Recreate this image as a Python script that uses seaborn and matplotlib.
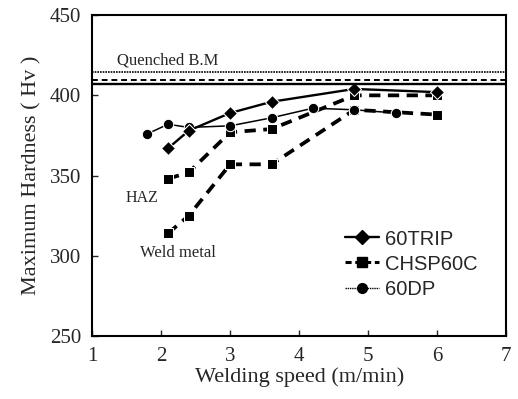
import numpy as np
import pandas as pd
import matplotlib
matplotlib.use('Agg')
import matplotlib.pyplot as plt
import seaborn as sns
from matplotlib.lines import Line2D

# welding speed (m/min) and maximum hardness (Hv)
trip_x = [2.1, 2.4, 3.0, 3.6, 4.8, 6.0]
trip_y = [367, 378, 389, 396, 404, 402]

chsp_haz_x = [2.1, 2.4, 3.0, 3.6, 4.8, 6.0]
chsp_haz_y = [348, 352, 377, 379, 400, 400]

chsp_weld_x = [2.1, 2.4, 3.0, 3.6, 4.8, 6.0]
chsp_weld_y = [314, 325, 357, 357, 391, 388]

dp_x = [1.8, 2.1, 2.4, 3.0, 3.6, 4.2, 4.8, 5.4]
dp_y = [376, 382, 380, 381, 386, 392, 391, 389]

# quenched base metal hardness
quenched_trip = 407
quenched_chsp = 409.5
quenched_dp = 414.5

sns.set_style('ticks')
plt.rcParams['font.family'] = ['Liberation Serif', 'DejaVu Serif']

fig = plt.figure(figsize=(5.18, 3.99), dpi=100)
ax = fig.add_axes([0.178, 0.158, 0.799, 0.804])

trip_style = dict(color='black', linestyle='-', linewidth=1.7, marker='D', markersize=7.5)
chsp_style = dict(color='black', linestyle=(0, (3, 2)), linewidth=2.7, marker='s', markersize=7.5)
dp_style = dict(color='black', linestyle='-', linewidth=1.1, marker='o', markersize=7.5)

sns.lineplot(x=chsp_weld_x, y=chsp_weld_y, ax=ax, **chsp_style)
sns.lineplot(x=chsp_haz_x, y=chsp_haz_y, ax=ax, **chsp_style)
sns.lineplot(x=dp_x, y=dp_y, ax=ax, **dp_style)
sns.lineplot(x=trip_x, y=trip_y, ax=ax, **trip_style)

ax.axhline(quenched_trip, color='black', linewidth=1.7)
ax.axhline(quenched_chsp, color='black', linewidth=1.4, linestyle=(0, (3, 2)))
ax.axhline(quenched_dp, color='black', linewidth=1.2, linestyle=(0, (1, 0.6)))

ax.text(1.36, 422, 'Quenched B.M', fontsize=12, ha='left', va='center')
ax.text(1.48, 336, 'HAZ', fontsize=11.5, ha='left', va='center')
ax.text(1.7, 302, 'Weld metal', fontsize=12, ha='left', va='center')

ax.set_xlim(1, 7)
ax.set_ylim(250, 450)
ax.set_xticks(range(1, 8))
ax.set_yticks(range(250, 451, 50))
ax.tick_params(direction='in', length=4, width=1, labelsize=15, pad=8)
for side in ax.spines.values():
    side.set_linewidth(1.5)
    side.set_color('black')

ax.set_xlabel('Welding speed (m/min)', fontsize=16, labelpad=1)
ax.set_ylabel('Maximum Hardness ( Hv )', fontsize=16, labelpad=6)

handles = [
    Line2D([], [], **trip_style),
    Line2D([], [], color='black', linestyle=(0, (2, 1.2)), linewidth=2.2, marker='s', markersize=7.5),
    Line2D([], [], color='black', linestyle=(0, (1, 0.6)), linewidth=1.0, marker='o', markersize=7),
]
ax.legend(handles, ['60TRIP', 'CHSP60C', '60DP'], loc='lower right',
          bbox_to_anchor=(0.975, 0.06), frameon=False, handlelength=1.7,
          handletextpad=0.3, labelspacing=0.3,
          prop={'family': 'Liberation Sans', 'size': 14.5})

fig.savefig('out.png', dpi=100)
